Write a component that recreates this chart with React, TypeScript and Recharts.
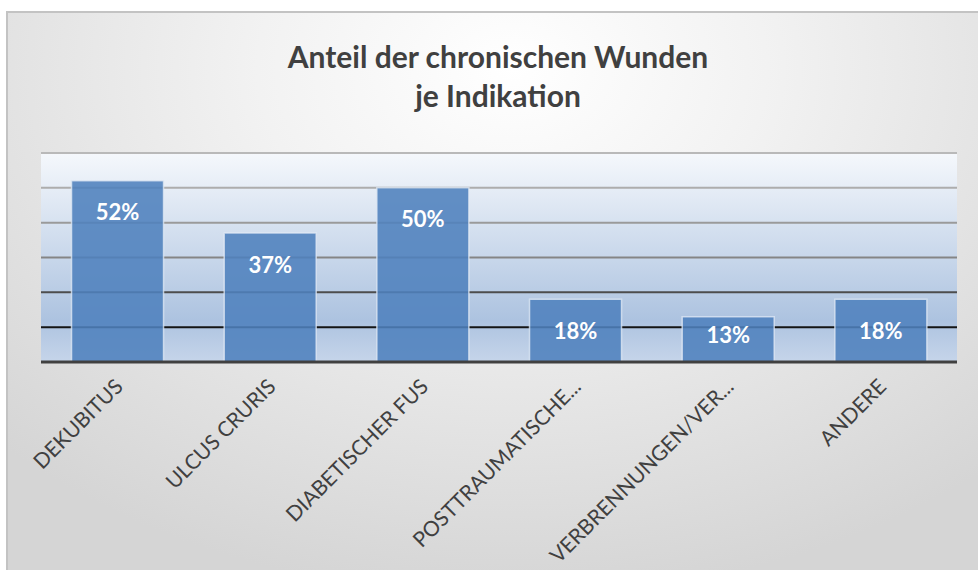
import { BarChart, Bar, XAxis, YAxis, CartesianGrid, LabelList } from 'recharts';

const categories = ['DEKUBITUS', 'ULCUS CRURIS', 'DIABETISCHER FUS', 'POSTTRAUMATISCHE...', 'VERBRENNUNGEN/VER...', 'ANDERE'];
const shares = [52, 37, 50, 18, 13, 18];
const yTicks = [0, 10, 20, 30, 40, 50, 60];

const titleLines = ['Anteil der chronischen Wunden', 'je Indikation'];

const data = categories.map((name, i) => ({ name, share: shares[i] }));

// gridlines get darker towards the bottom (index follows yTicks)
const gridColors = ['#404040', '#151515', '#4d4d4d', '#858585', '#9a9a9a', '#adadad', '#b9b9b9'];

const FONT = 'Lato, "Noto Sans", sans-serif';

const GridLine = (p: any) => (
  <line
    key={p.key}
    x1={p.x1}
    y1={p.y1}
    x2={p.x2}
    y2={p.y2}
    stroke={gridColors[p.index] ?? '#999'}
    strokeWidth={2}
  />
);

const CategoryTick = ({ x, y, payload }: any) => (
  <text
    x={x + 7}
    y={y + 18}
    transform={`rotate(-45, ${x + 7}, ${y + 18})`}
    textAnchor="end"
    fill="#404040"
    fontSize={21}
    fontFamily={FONT}
  >
    {payload.value}
  </text>
);

const ValueLabel = ({ x, y, width, height, value }: any) => (
  <text
    x={x + width / 2}
    y={y + Math.min(31, height - 28)}
    textAnchor="middle"
    dominantBaseline="central"
    fill="#ffffff"
    fontWeight={700}
    fontSize={22}
    fontFamily={FONT}
  >
    {value}%
  </text>
);

export default function App() {
  return (
    <div style={{ position: 'absolute', left: 0, top: 0, width: 978, height: 570, overflow: 'hidden', background: '#fff' }}>
      <div
        style={{
          position: 'absolute',
          left: 6,
          top: 11,
          width: 972,
          height: 559,
          boxSizing: 'border-box',
          borderLeft: '2px solid #c3c3c3',
          borderTop: '2px solid #c3c3c3',
          background: 'radial-gradient(ellipse 75% 95% at 52% 10%, #ffffff 0%, #f2f2f2 35%, #d5d5d5 100%)',
        }}
      />
      <div
        style={{
          position: 'absolute',
          left: 0,
          top: 37,
          width: 996,
          textAlign: 'center',
          fontFamily: FONT,
          fontWeight: 700,
          fontSize: 30,
          lineHeight: '39px',
          color: '#404040',
        }}
      >
        {titleLines.map((l) => (
          <div key={l}>{l}</div>
        ))}
      </div>
      <div style={{ position: 'absolute', left: 0, top: 0 }}>
        <BarChart
          width={978}
          height={570}
          data={data}
          margin={{ top: 153, right: 21, left: 41, bottom: 8 }}
          barCategoryGap="20%"
        >
          <defs>
            <linearGradient id="plotBg" x1="0" y1="0" x2="0" y2="1">
              <stop offset="0%" stopColor="#f5f8fc" />
              <stop offset="80%" stopColor="#adc3e0" />
              <stop offset="100%" stopColor="#c6d5ea" />
            </linearGradient>
          </defs>
          <CartesianGrid
            vertical={false}
            horizontal={GridLine}
            fill="url(#plotBg)"
            fillOpacity={1}
            stroke="none"
          />
          <YAxis hide domain={[0, 60]} ticks={yTicks} />
          <XAxis
            dataKey="name"
            height={200}
            interval={0}
            tickLine={false}
            axisLine={{ stroke: '#404040', strokeWidth: 3 }}
            tick={<CategoryTick />}
          />
          <Bar
            dataKey="share"
            fill="#4f81bd"
            fillOpacity={0.88}
            stroke="#e3ebf5"
            strokeOpacity={0.75}
            strokeWidth={1.5}
            isAnimationActive={false}
          >
            <LabelList dataKey="share" content={<ValueLabel />} />
          </Bar>
        </BarChart>
      </div>
    </div>
  );
}
